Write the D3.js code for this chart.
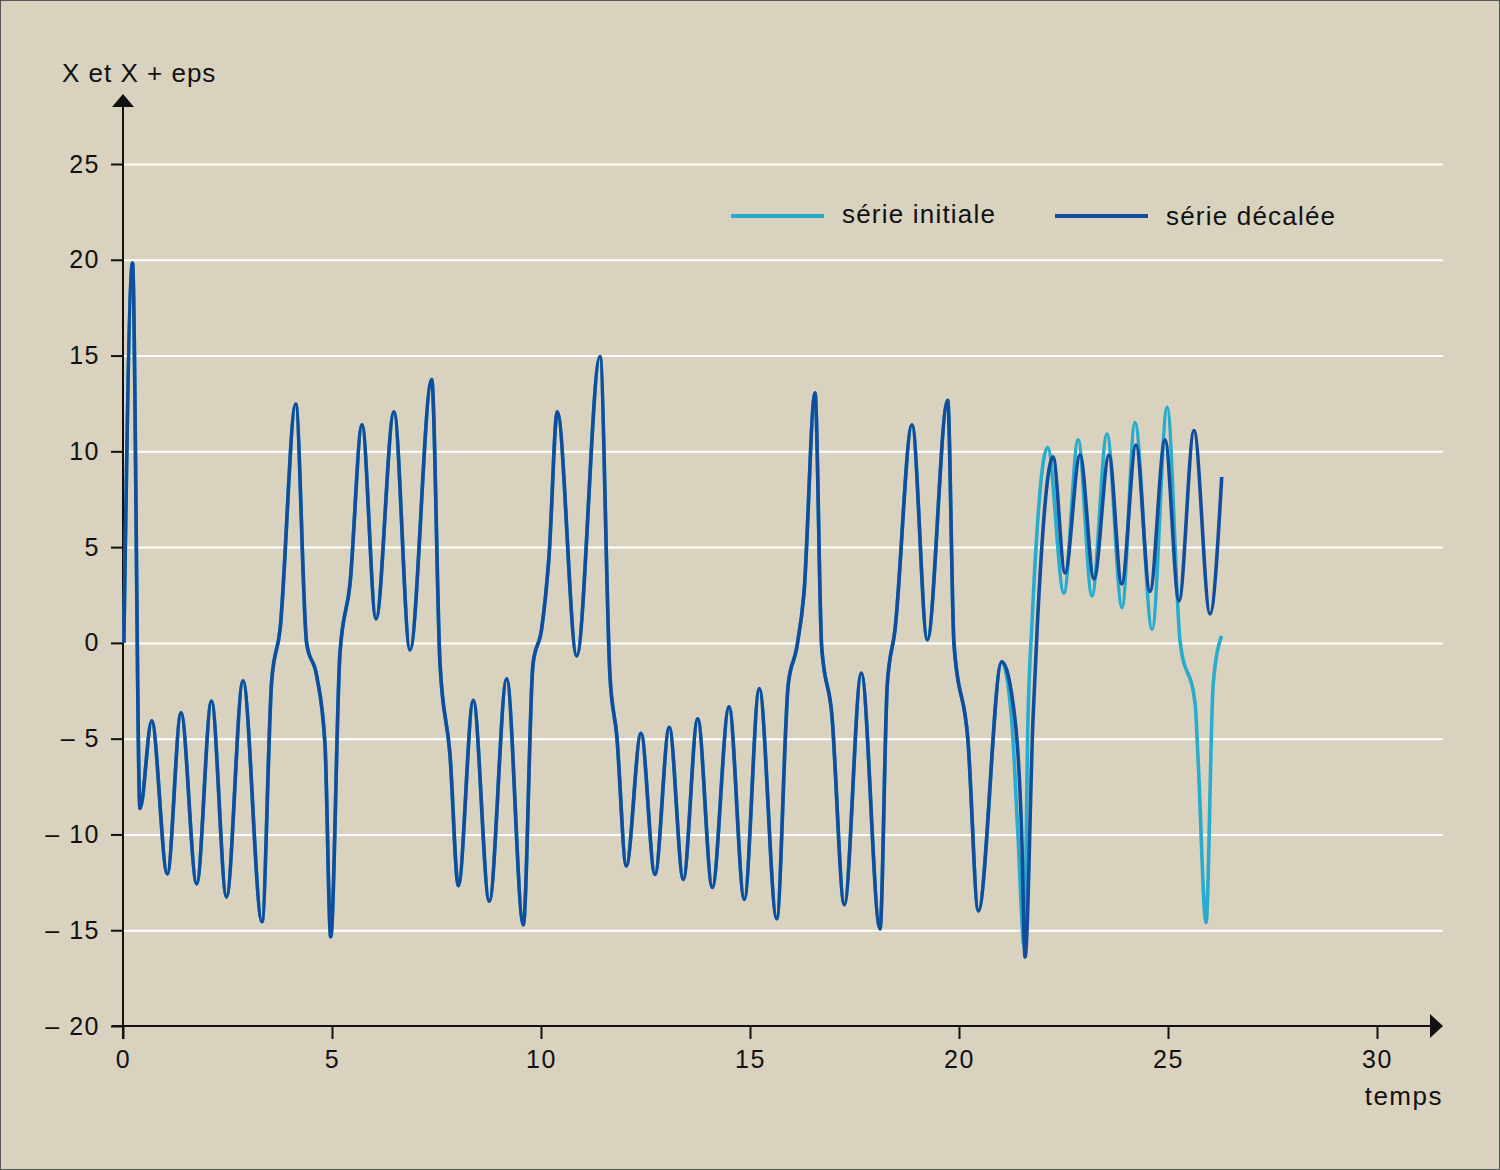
<!DOCTYPE html>
<html>
<head>
<meta charset="utf-8">
<script src="https://cdn.jsdelivr.net/npm/d3@7"></script>
<style>
  body { margin: 0; background: #d8d2bf; }
  text { font-family: "Liberation Sans", Arial, sans-serif; fill: #111; }
</style>
</head>
<body>
<svg id="main"></svg>
<script>
// tick values
var xTicks = [0, 5, 10, 15, 20, 25, 30];
var yTicks = [-20, -15, -10, -5, 0, 5, 10, 15, 20, 25];

// common part of both series (identical until t ~ 21)
var tCommon = [0.02, 0.227, 0.407, 0.687, 1.06, 1.388, 1.763, 2.117, 2.476, 2.871, 3.325, 3.557, 3.756, 4.132,
  4.395, 4.634, 4.833, 4.969, 5.191, 5.431, 5.718, 6.053, 6.483, 6.866, 7.385, 7.584, 7.823, 8.022, 8.38,
  8.763, 9.179, 9.576, 9.809, 10.017, 10.19, 10.39, 10.854, 11.411, 11.65, 11.811, 12.04, 12.392, 12.727,
  13.069, 13.404, 13.749, 14.098, 14.498, 14.864, 15.222, 15.639, 15.916, 16.117, 16.292, 16.555, 16.715,
  16.954, 17.256, 17.663, 18.11, 18.285, 18.469, 18.876, 19.242, 19.729, 19.88, 20.215, 20.462, 21.022];
var xCommon = [0, 19.83, -8.64, -4.07, -12.06, -3.65, -12.58, -3.03, -13.26, -1.98, -14.56, -1.98, 0.68, 12.47,
  -0.05, -1.72, -5.32, -15.34, -0.52, 3.08, 11.38, 1.25, 12.06, -0.37, 13.75, -1.1, -5.85, -12.68, -3.0,
  -13.49, -1.88, -14.72, -1.1, 0.75, 4.46, 12.06, -0.68, 14.95, -1.72, -4.8, -11.64, -4.72, -12.09,
  -4.41, -12.35, -3.96, -12.77, -3.34, -13.39, -2.39, -14.4, -2.14, -0.26, 2.61, 13.06, -0.23,
  -3.65, -13.67, -1.57, -14.93, -2.14, 0.68, 11.39, 0.16, 12.67, -0.04, -5.11, -13.99, -0.99];

// end of "série initiale"
var tInitiale = [21.26, 21.41, 21.56, 21.65, 21.75, 22.12, 22.51, 22.85, 23.18, 23.54, 23.9, 24.21, 24.62, 24.98,
  25.29, 25.65, 25.72, 25.91, 26.08, 26.28];
var xInitiale = [-4.0, -10.0, -15.85, -4.0, 1.2, 10.2, 2.6, 10.6, 2.45, 10.9, 1.85, 11.5, 0.7, 12.3,
  0.07, -3.2, -6.1, -14.6, -2.2, 0.37];

// end of "série décalée"
var tDecalee = [21.34, 21.5, 21.58, 21.77, 21.88, 22.249, 22.536, 22.895, 23.23, 23.589, 23.892, 24.234, 24.569,
  24.928, 25.263, 25.622, 26.005, 26.285];
var xDecalee = [-4.0, -10.0, -16.4, -4.0, 1.2, 9.71, 3.65, 9.81, 3.34, 9.81, 3.08, 10.33, 2.68,
  10.6, 2.19, 11.08, 1.51, 8.66];

var legendNames = ["série initiale", "série décalée"];
var colors = ["#29abcd", "#114d9d"];

var W = 1500, H = 1170;
var svg = d3.select("#main").attr("width", W).attr("height", H);

svg.append("rect")
  .attr("x", 0.5).attr("y", 0.5)
  .attr("width", W - 1).attr("height", H - 1)
  .attr("fill", "#d8d2bf")
  .attr("stroke", "#555").attr("stroke-width", 1);

var x = d3.scaleLinear().domain([0, 30]).range([123, 1377]);
var y = d3.scaleLinear().domain([-20, 25]).range([1026, 164]);
var xEnd = 1443;

// grid
var grid = svg.append("g")
  .attr("transform", "translate(123,0)")
  .call(d3.axisLeft(y).tickValues(yTicks.filter(function(d) { return d > -20; }))
    .tickSize(-(xEnd - 123)).tickFormat(""));
grid.select(".domain").remove();
grid.selectAll(".tick line").attr("stroke", "#fff").attr("stroke-width", 2);

// y axis
var yAxis = svg.append("g")
  .attr("transform", "translate(123,0)")
  .call(d3.axisLeft(y).tickValues(yTicks).tickSize(12).tickPadding(11)
    .tickFormat(function(d) { return d < 0 ? "\u2013 " + (-d) : d; }));
yAxis.select(".domain").remove();
yAxis.selectAll(".tick line").attr("stroke", "#111").attr("stroke-width", 2);
yAxis.selectAll("text").attr("font-size", 25).attr("letter-spacing", 1.5)
  .attr("font-family", "Liberation Sans, Arial, sans-serif").attr("fill", "#111");

// x axis
var xAxis = svg.append("g")
  .attr("transform", "translate(0,1026)")
  .call(d3.axisBottom(x).tickValues(xTicks).tickSize(13).tickPadding(11));
xAxis.select(".domain").remove();
xAxis.selectAll(".tick line").attr("stroke", "#111").attr("stroke-width", 2);
xAxis.selectAll("text").attr("font-size", 25).attr("letter-spacing", 1.5)
  .attr("font-family", "Liberation Sans, Arial, sans-serif").attr("fill", "#111");

// axis lines with arrows
svg.append("line").attr("x1", 123).attr("y1", 1039).attr("x2", 123).attr("y2", 104)
  .attr("stroke", "#111").attr("stroke-width", 2);
svg.append("path").attr("d", "M123,94 L112,107 L134,107 Z").attr("fill", "#111");
svg.append("line").attr("x1", 112).attr("y1", 1026).attr("x2", 1433).attr("y2", 1026)
  .attr("stroke", "#111").attr("stroke-width", 2);
svg.append("path").attr("d", "M1443,1026 L1430,1014 L1430,1038 Z").attr("fill", "#111");

svg.append("text").attr("x", 62).attr("y", 82).attr("font-size", 26)
  .attr("letter-spacing", 1).text("X et X + eps");
svg.append("text").attr("x", 1443).attr("y", 1105).attr("font-size", 26)
  .attr("letter-spacing", 1.5).attr("text-anchor", "end").text("temps");

// series
var line = d3.line()
  .x(function(d) { return x(d[0]); })
  .y(function(d) { return y(d[1]); })
  .curve(d3.curveMonotoneX);

var common = tCommon.map(function(t, i) { return [t, xCommon[i]]; });
var serieInit = common.concat(tInitiale.map(function(t, i) { return [t, xInitiale[i]]; }));
var serieDec = common.concat(tDecalee.map(function(t, i) { return [t, xDecalee[i]]; }));

[serieInit, serieDec].forEach(function(s, i) {
  svg.append("path")
    .datum(s)
    .attr("fill", "none")
    .attr("stroke", colors[i])
    .attr("stroke-width", 3.6)
    .attr("stroke-linejoin", "round")
    .attr("d", line);
});

// legend
var legendX = [731, 1055];
legendNames.forEach(function(name, i) {
  svg.append("line")
    .attr("x1", legendX[i]).attr("x2", legendX[i] + 93)
    .attr("y1", 216).attr("y2", 216)
    .attr("stroke", colors[i]).attr("stroke-width", 4);
  svg.append("text")
    .attr("x", legendX[i] + 111).attr("y", 223 + 2 * i)
    .attr("font-size", 26)
    .attr("letter-spacing", 1.2)
    .text(name);
});
</script>
</body>
</html>
